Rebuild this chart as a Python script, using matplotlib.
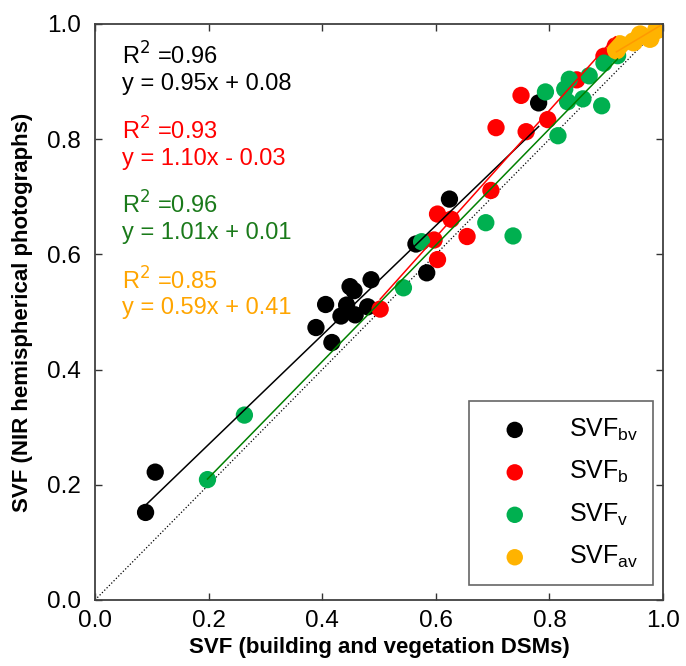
import numpy as np
import matplotlib.pyplot as plt

plt.rcParams['font.family'] = ['Liberation Sans', 'DejaVu Sans']

# SVF values (x: building/vegetation DSMs, y: NIR hemispherical photographs)
bv_x = [0.089, 0.106, 0.389, 0.406, 0.417, 0.433, 0.443, 0.449, 0.456, 0.458,
        0.480, 0.486, 0.565, 0.584, 0.624, 0.781]
bv_y = [0.152, 0.222, 0.473, 0.513, 0.447, 0.493, 0.512, 0.544, 0.537, 0.495,
        0.509, 0.556, 0.618, 0.568, 0.696, 0.863]

b_x = [0.502, 0.597, 0.603, 0.603, 0.627, 0.655, 0.697, 0.706, 0.750, 0.759,
       0.797, 0.848, 0.896, 0.916]
b_y = [0.505, 0.625, 0.670, 0.591, 0.661, 0.631, 0.711, 0.820, 0.876, 0.813,
       0.834, 0.903, 0.944, 0.962]

v_x = [0.198, 0.263, 0.543, 0.575, 0.688, 0.736, 0.793, 0.815, 0.827, 0.832,
       0.835, 0.859, 0.870, 0.892, 0.896, 0.920]
v_y = [0.209, 0.321, 0.542, 0.622, 0.655, 0.632, 0.882, 0.806, 0.887, 0.865,
       0.904, 0.870, 0.910, 0.858, 0.932, 0.945]

av_x = [0.918, 0.924, 0.948, 0.960, 0.977, 0.989, 0.995]
av_y = [0.955, 0.964, 0.969, 0.981, 0.975, 0.990, 1.000]

# regression coefficients (slope, intercept) and annotation text
fits = {
    'bv': (0.95, 0.08, 'R$^2$ =0.96', 'y = 0.95x + 0.08'),
    'b': (1.10, -0.03, 'R$^2$ =0.93', 'y = 1.10x - 0.03'),
    'v': (1.01, 0.01, 'R$^2$ =0.96', 'y = 1.01x + 0.01'),
    'av': (0.59, 0.41, 'R$^2$ =0.85', 'y = 0.59x + 0.41'),
}

series = [
    ('bv', bv_x, bv_y, 'black', 'black', 'black', 'SVF$_{\\mathregular{bv}}$'),
    ('b', b_x, b_y, '#ff0000', '#ff0000', '#ff0000', 'SVF$_{\\mathregular{b}}$'),
    ('v', v_x, v_y, '#00b050', '#008000', '#1a7a1a', 'SVF$_{\\mathregular{v}}$'),
    ('av', av_x, av_y, '#ffb300', '#ff9900', '#ffa500', 'SVF$_{\\mathregular{av}}$'),
]

fig = plt.figure(figsize=(6.86, 6.66), dpi=100)
ax = fig.add_axes([0.1385, 0.0991, 0.828, 0.8649])

# 1:1 line
ax.plot([0, 1], [0, 1], color='black', linestyle=':', linewidth=0.9, zorder=1)

text_y = [(0.929, 0.885), (0.800, 0.756), (0.670, 0.627), (0.539, 0.4965)]

for (key, xs, ys, mcol, lcol, tcol, lab), (ty1, ty2) in zip(series, text_y):
    sz = 190 if key == 'av' else 155
    ax.scatter(xs, ys, s=sz, color=mcol, edgecolors='none', label=lab, zorder=2)
    a, b, r2, eq = fits[key]
    xl = np.array([min(xs), max(xs)])
    ax.plot(xl, a * xl + b, color=lcol, linewidth=1.1, zorder=3)
    ax.text(0.047, ty1, r2, color=tcol, fontsize=17, va='baseline')
    ax.text(0.047, ty2, eq, color=tcol, fontsize=17, va='baseline')

ax.set_xlim(0, 1)
ax.set_ylim(0, 1)
ax.set_xticks(np.arange(0, 1.01, 0.2))
ax.set_yticks(np.arange(0, 1.01, 0.2))
ax.xaxis.set_major_formatter(plt.FormatStrFormatter('%.1f'))
ax.yaxis.set_major_formatter(plt.FormatStrFormatter('%.1f'))
ax.tick_params(direction='in', length=5, width=1, top=True, right=True,
               labelsize=17.5, color='#333333')
ax.tick_params(axis='x', pad=7)
ax.tick_params(axis='y', pad=10)
for sp in ax.spines.values():
    sp.set_color('#404040')
    sp.set_linewidth(1.3)

ax.set_xlabel('SVF (building and vegetation DSMs)', fontsize=16,
              fontweight='bold', labelpad=4)
ax.set_ylabel('SVF (NIR hemispherical photographs)', fontsize=16,
              fontweight='bold', labelpad=10)

leg = ax.legend(loc='lower right', bbox_to_anchor=(0.982, 0.026), fontsize=18,
                frameon=True, fancybox=False, edgecolor='#404040',
                borderpad=0.6, labelspacing=0.65, handletextpad=0.9,
                borderaxespad=0, handlelength=2.5)
leg.get_frame().set_linewidth(1.2)
for h in leg.legend_handles:
    h.set_sizes([140])

fig.savefig('out.png', dpi=100)
